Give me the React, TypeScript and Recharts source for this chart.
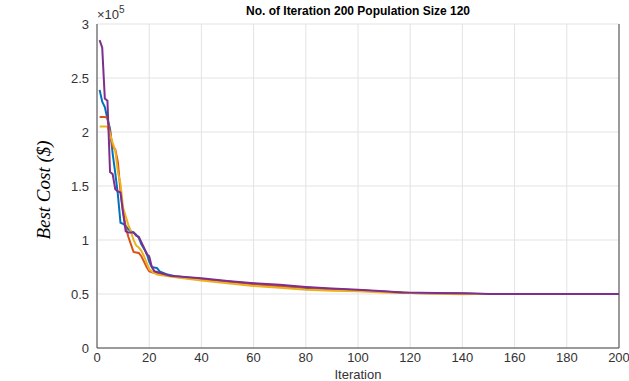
import React from 'react';
import { LineChart, Line, XAxis, YAxis, CartesianGrid, ReferenceLine } from 'recharts';

const xTicks = [0, 20, 40, 60, 80, 100, 120, 140, 160, 180, 200];
const yTicks = [0, 0.5, 1, 1.5, 2, 2.5, 3];

const blueIter = [1, 2, 3, 4, 5, 6, 7, 8, 9, 10, 11, 12, 13, 14, 15, 16, 17, 18, 19, 20, 21, 23, 24, 27, 30, 40, 50, 60, 70, 80, 90, 100, 110, 120, 140, 145, 200];
const blueCost = [2.39, 2.28, 2.23, 2.12, 2.03, 1.8, 1.62, 1.42, 1.16, 1.15, 1.13, 1.1, 1.08, 1.07, 1.05, 1.02, 0.96, 0.92, 0.88, 0.8, 0.75, 0.74, 0.71, 0.68, 0.665, 0.64, 0.615, 0.595, 0.575, 0.555, 0.545, 0.535, 0.52, 0.51, 0.505, 0.5, 0.5];

const redIter = [1, 2, 3, 4, 5, 6, 7, 8, 9, 10, 11, 12, 13, 14, 15, 16, 17, 18, 19, 20, 21, 25, 30, 40, 50, 60, 70, 80, 90, 100, 110, 120, 140, 145, 200];
const redCost = [2.14, 2.14, 2.14, 2.13, 2.0, 1.86, 1.84, 1.72, 1.45, 1.26, 1.12, 1.03, 0.96, 0.89, 0.885, 0.88, 0.85, 0.8, 0.75, 0.71, 0.7, 0.68, 0.66, 0.635, 0.615, 0.59, 0.575, 0.56, 0.545, 0.535, 0.52, 0.51, 0.505, 0.5, 0.5];

const yellowIter = [1, 2, 3, 4, 5, 6, 7, 8, 9, 10, 11, 12, 13, 14, 15, 16, 17, 18, 19, 20, 21, 23, 30, 40, 50, 60, 70, 80, 90, 100, 110, 120, 135, 140, 145, 200];
const yellowCost = [2.05, 2.05, 2.05, 2.05, 1.98, 1.9, 1.83, 1.63, 1.52, 1.3, 1.22, 1.14, 1.08, 1.0, 0.95, 0.93, 0.9, 0.85, 0.79, 0.73, 0.71, 0.68, 0.655, 0.625, 0.6, 0.575, 0.557, 0.54, 0.53, 0.525, 0.515, 0.51, 0.5, 0.498, 0.5, 0.5];

const purpleIter = [1, 2, 3, 4, 5, 6, 7, 8, 9, 10, 11, 12, 13, 14, 15, 16, 17, 18, 19, 20, 21, 22, 25, 28, 35, 40, 50, 60, 70, 80, 90, 100, 110, 117, 130, 145, 150, 200];
const purpleCost = [2.85, 2.78, 2.31, 2.29, 1.63, 1.61, 1.47, 1.45, 1.44, 1.25, 1.08, 1.07, 1.07, 1.07, 1.04, 1.03, 0.98, 0.93, 0.87, 0.85, 0.75, 0.71, 0.69, 0.67, 0.655, 0.645, 0.62, 0.6, 0.585, 0.565, 0.55, 0.54, 0.525, 0.513, 0.51, 0.505, 0.5, 0.5];

const build = (iters: number[], costs: number[]) => iters.map((it, i) => ({ iter: it, cost: costs[i] }));

const series = [
  { name: 'blue', color: '#0072BD', data: build(blueIter, blueCost) },
  { name: 'red', color: '#D95319', data: build(redIter, redCost) },
  { name: 'yellow', color: '#EDB120', data: build(yellowIter, yellowCost) },
  { name: 'purple', color: '#7E2F8E', data: build(purpleIter, purpleCost) },
];

const tickStyle = { fontFamily: 'Liberation Sans, Arial, sans-serif', fontSize: 13, fill: '#333333' };

export default function App() {
  return (
    <div style={{ position: 'absolute', left: 0, top: 0, width: 629, height: 381, background: '#ffffff' }}>
      <LineChart width={629} height={381} margin={{ top: 24, right: 10, bottom: 0, left: 0 }}>
        <CartesianGrid stroke="#e3e3e3" strokeWidth={1} />
        <XAxis
          type="number"
          dataKey="iter"
          domain={[0, 200]}
          ticks={xTicks}
          height={33}
          tickSize={0}
          tickMargin={5}
          stroke="#444444"
          tick={tickStyle}
          allowDuplicatedCategory={false}
          label={(props: any) => {
            const vb = props.viewBox || {};
            return (
              <text x={vb.x + vb.width / 2} y={379} textAnchor="middle" style={tickStyle}>
                Iteration
              </text>
            );
          }}
        />
        <YAxis
          type="number"
          dataKey="cost"
          domain={[0, 3]}
          ticks={yTicks}
          width={97}
          tickSize={0}
          tickMargin={8}
          stroke="#444444"
          tick={tickStyle}
          label={() => (
            <g>
              <text
                x={0}
                y={0}
                transform="translate(50,190) rotate(-90)"
                textAnchor="middle"
                style={{ fontFamily: 'Liberation Serif, Times New Roman, serif', fontStyle: 'italic', fontSize: 19, fill: '#000000' }}
              >
                Best Cost ($)
              </text>
              <text x={97} y={19} style={tickStyle}>
                ×10<tspan dy={-6} fontSize={10}>5</tspan>
              </text>
              <text
                x={358}
                y={15}
                textAnchor="middle"
                style={{ fontFamily: 'Liberation Sans, Arial, sans-serif', fontSize: 12, fontWeight: 'bold', fill: '#000000' }}
              >
                No. of Iteration 200 Population Size 120
              </text>
            </g>
          )}
        />
        <ReferenceLine x={200} stroke="#444444" strokeWidth={1} />
        {series.map((s) => (
          <Line
            key={s.name}
            data={s.data}
            dataKey="cost"
            type="linear"
            stroke={s.color}
            strokeWidth={2}
            dot={false}
            isAnimationActive={false}
          />
        ))}
      </LineChart>
    </div>
  );
}
